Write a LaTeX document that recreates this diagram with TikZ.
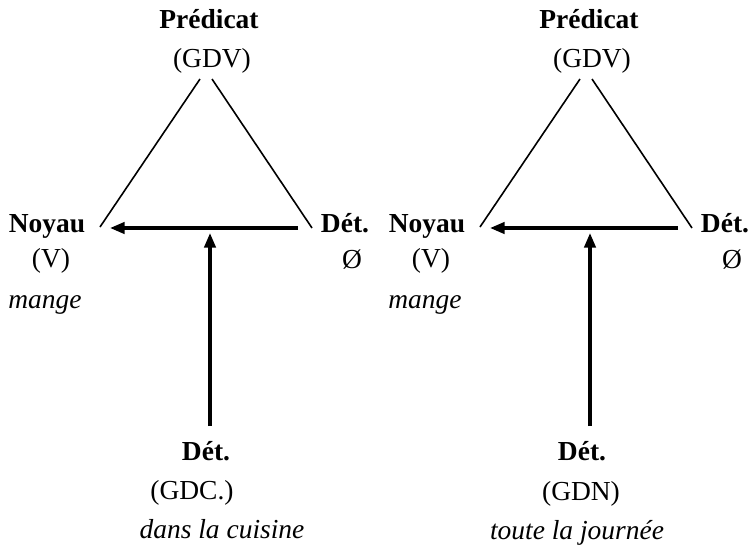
\documentclass[tikz,border=0pt]{standalone}
\usepackage{fontspec}
\setmainfont{Liberation Serif}
\usetikzlibrary{arrows.meta}
\begin{document}
\begin{tikzpicture}[x=0.75pt,y=-0.75pt,
  lbl/.style={inner sep=0pt,anchor=base,font=\fontsize{20.6}{24}\selectfont},
  bl/.style={lbl,font=\fontsize{20.6}{24}\selectfont\bfseries},
  il/.style={lbl,font=\fontsize{20.6}{24}\selectfont\itshape},
  side/.style={line width=1.2pt},
  arr/.style={line width=2.5pt,-{Triangle[length=11pt,width=8.5pt]}}]
\useasboundingbox (0,0) rectangle (753,551);
% ---- left diagram ----
\node[bl] (Lpred) at (209,28) {Prédicat};
\node[lbl] (Lgdv) at (212,67) {(GDV)};
\node[bl] (Lnoy) at (47,232) {Noyau};
\node[lbl] (Lv) at (51,267) {(V)};
\node[il] (Lmange) at (45,308) {mange};
\node[bl] (Ldet) at (345,232) {Dét.};
\node[lbl] (Lnul) at (352,268) {Ø};
\node[bl] (Lbdet) at (206,460) {Dét.};
\node[lbl] (Lgdc) at (192,499) {(GDC.)};
\node[il] (Lcuis) at (222,538) {dans la cuisine};
\coordinate (LtopL) at (200,79);
\coordinate (LtopR) at (212,79);
\coordinate (LbotL) at (100,227);
\coordinate (LbotR) at (312,228);
\coordinate (LhS) at (298,228);
\coordinate (LhE) at (110,228);
\coordinate (LvS) at (210,426);
\coordinate (LvE) at (210,233);
\draw[side] (LtopL) -- (LbotL);
\draw[side] (LtopR) -- (LbotR);
\draw[arr] (LhS) -- (LhE);
\draw[arr] (LvS) -- (LvE);
% ---- right diagram ----
\node[bl] (Rpred) at (589,28) {Prédicat};
\node[lbl] (Rgdv) at (592,67) {(GDV)};
\node[bl] (Rnoy) at (427,232) {Noyau};
\node[lbl] (Rv) at (431,267) {(V)};
\node[il] (Rmange) at (425,308) {mange};
\node[bl] (Rdet) at (725,232) {Dét.};
\node[lbl] (Rnul) at (732,268) {Ø};
\node[bl] (Rbdet) at (582,460) {Dét.};
\node[lbl] (Rgdn) at (581,500) {(GDN)};
\node[il] (Rjour) at (577,539) {toute la journée};
\coordinate (RtopL) at (580,79);
\coordinate (RtopR) at (592,79);
\coordinate (RbotL) at (480,227);
\coordinate (RbotR) at (692,228);
\coordinate (RhS) at (678,228);
\coordinate (RhE) at (490,228);
\coordinate (RvS) at (590,426);
\coordinate (RvE) at (590,233);
\draw[side] (RtopL) -- (RbotL);
\draw[side] (RtopR) -- (RbotR);
\draw[arr] (RhS) -- (RhE);
\draw[arr] (RvS) -- (RvE);
\end{tikzpicture}
\end{document}
